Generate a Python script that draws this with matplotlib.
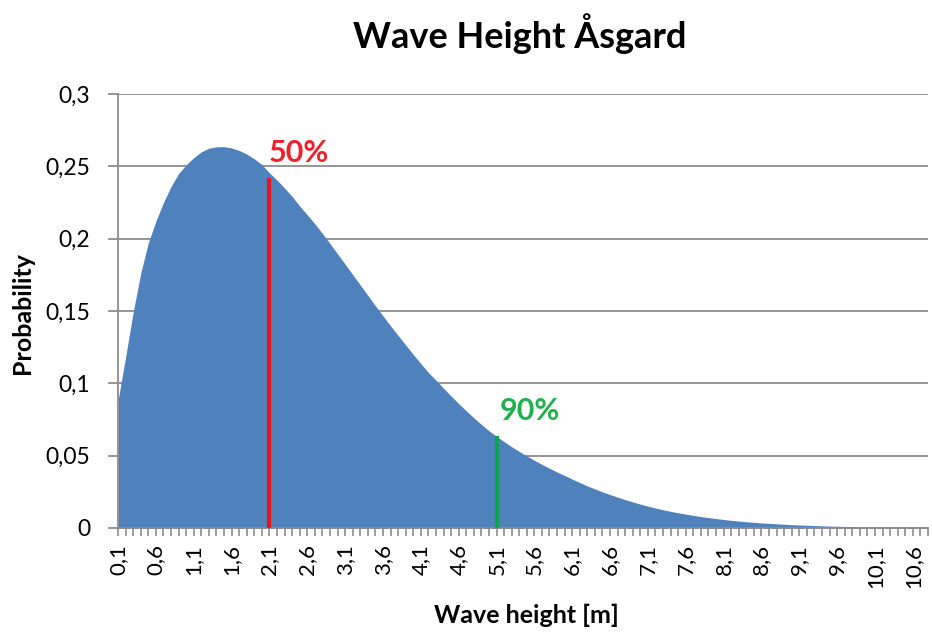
import matplotlib
matplotlib.use("Agg")
import matplotlib.pyplot as plt
import numpy as np

# Categories: wave height 0.1 .. 10.8 m (step 0.1)
heights = [round(0.1 + 0.1 * i, 1) for i in range(108)]
category_labels = [f"{h:.1f}".replace(".", ",") for h in heights]

probability = [
    0.088, 0.118, 0.149, 0.176, 0.197, 0.212, 0.225, 0.236, 0.245, 0.251,
    0.256, 0.260, 0.2625, 0.2635, 0.2636, 0.2627, 0.2610, 0.2585, 0.2552, 0.2512,
    0.2455, 0.2405, 0.2350, 0.2292, 0.2225, 0.2165, 0.2103, 0.2036, 0.1966, 0.1895,
    0.1824, 0.1752, 0.1680, 0.1608, 0.1536, 0.1466, 0.1398, 0.1331, 0.1265, 0.1200,
    0.1137, 0.1075, 0.1022, 0.0966, 0.0912, 0.0860, 0.0810, 0.0762, 0.0716, 0.0672,
    0.0634, 0.0597, 0.0562, 0.0529, 0.0498, 0.0468, 0.0440, 0.0413, 0.0387, 0.0363,
    0.0338, 0.0314, 0.0291, 0.0270, 0.0250, 0.0231, 0.0213, 0.0196, 0.0180, 0.0165,
    0.0151, 0.0138, 0.0126, 0.0115, 0.0105, 0.0096, 0.0087, 0.0079, 0.0072, 0.0065,
    0.0059, 0.0053, 0.0048, 0.0043, 0.0039, 0.0035, 0.0032, 0.0029, 0.0026, 0.0023,
    0.0021, 0.0019, 0.0017, 0.0015, 0.0013, 0.0012, 0.0011, 0.0010, 0.0009, 0.0008,
    0.0007, 0.0006, 0.00055, 0.0005, 0.00045, 0.0004, 0.00035, 0.0003,
]

# Percentile markers
marker_heights = [2.1, 5.1]
marker_values = [0.2416, 0.0636]
marker_labels = ["50%", "90%"]
marker_colors = ["#e8141c", "#12a150"]
marker_text_colors = ["#f0202a", "#22b04c"]

y_ticks = [0, 0.05, 0.1, 0.15, 0.2, 0.25, 0.3]
y_tick_labels = ["0", "0,05", "0,1", "0,15", "0,2", "0,25", "0,3"]

title = "Wave Height Åsgard"
x_title = "Wave height [m]"
y_title = "Probability"

plt.rcParams["font.family"] = ["Lato", "DejaVu Sans"]

fig = plt.figure(figsize=(9.32, 6.34), dpi=100)
ax = fig.add_axes([118 / 932, 1 - 528 / 634, (928 - 118) / 932, (528 - 94) / 634])

idx = np.arange(len(heights))
ax.fill_between(idx, probability, 0, color="#4f81bd", linewidth=0, zorder=2)

for h, v, c in zip(marker_heights, marker_values, marker_colors):
    i = heights.index(h)
    ax.plot([i, i], [0, v], color=c, linewidth=3, solid_capstyle="butt", zorder=3)

ax.text(heights.index(marker_heights[0]) - 0.1, 0.2495, marker_labels[0],
        color=marker_text_colors[0], fontsize=22, fontweight="bold",
        ha="left", va="bottom", zorder=4)
ax.text(heights.index(marker_heights[1]) + 0.4, 0.0807, marker_labels[1],
        color=marker_text_colors[1], fontsize=22, fontweight="bold",
        ha="left", va="center", zorder=4)

ax.set_xlim(0, len(heights) - 1)
ax.set_ylim(0, 0.3)

ax.set_yticks(y_ticks)
ax.set_yticklabels(y_tick_labels, fontsize=16.5)
ax.yaxis.grid(True, color="#8c8c8c", linewidth=1.3, zorder=0)
ax.set_axisbelow(True)

ax.set_xticks(idx[::5])
ax.set_xticklabels(category_labels[::5], rotation=90, fontsize=16)
ax.set_xticks(idx, minor=True)

ax.tick_params(axis="x", which="both", length=5.5, width=1.2, color="#8c8c8c", pad=6)
ax.tick_params(axis="y", length=7, width=1.3, color="#8c8c8c", pad=13)

for s in ["top", "right"]:
    ax.spines[s].set_visible(False)
for s in ["left", "bottom"]:
    ax.spines[s].set_color("#8c8c8c")
    ax.spines[s].set_linewidth(1.3)

fig.text(526 / 932, 1 - 615 / 634, x_title, fontsize=18, fontweight="bold",
         ha="center", va="center")
fig.text(22 / 932, 1 - 313 / 634, y_title, fontsize=18, fontweight="bold",
         ha="center", va="center", rotation=90)
fig.text(520 / 932, 1 - 34 / 634, title, fontsize=26, fontweight="bold",
         ha="center", va="center")

fig.savefig("out.png", dpi=100)
